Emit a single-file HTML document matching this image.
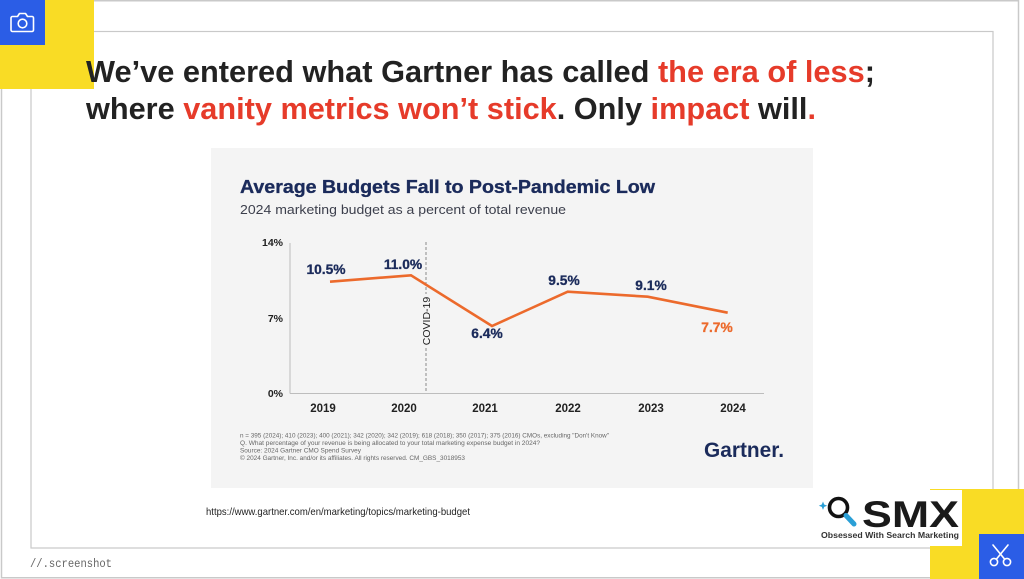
<!DOCTYPE html>
<html><head><meta charset="utf-8"><style>
html,body{margin:0;padding:0;background:#fff;}
svg{display:block;}
</style></head><body>
<svg width="1024" height="579" viewBox="0 0 1024 579" xmlns="http://www.w3.org/2000/svg" font-family="'Liberation Sans', Arial, sans-serif">
  <rect x="0" y="0" width="1024" height="579" fill="#fff"/>
  <!-- outer frame -->
  <rect x="1.5" y="0.75" width="1017" height="577" fill="none" stroke="#c9c9c9" stroke-width="1.5"/>
  <!-- inner box -->
  <rect x="31" y="31.5" width="962" height="516.5" fill="none" stroke="#c9c9c9" stroke-width="1.2"/>
  <!-- top-left yellow/blue -->
  <rect x="0" y="0" width="94" height="89" fill="#f9dc25"/>
  <rect x="0" y="0" width="45" height="45" fill="#2b5de6"/>
  <!-- camera icon -->
  <g fill="none" stroke="#fff" stroke-width="1.6" stroke-linejoin="round">
    <path d="M12.5 16.5 h5 l2 -3 h6 l2 3 h4.5 a1.5 1.5 0 0 1 1.5 1.5 v12 a1.5 1.5 0 0 1 -1.5 1.5 h-19.5 a1.5 1.5 0 0 1 -1.5 -1.5 v-12 a1.5 1.5 0 0 1 1.5 -1.5z"/>
    <circle cx="22.5" cy="23.5" r="4.3"/>
  </g>

  <!-- headline -->
  <text x="86" y="82" font-size="30.5" font-weight="bold" fill="#222" textLength="789" lengthAdjust="spacingAndGlyphs">We’ve entered what Gartner has called <tspan fill="#e63b2a">the era of less</tspan>;</text>
  <text x="86" y="119" font-size="30.5" font-weight="bold" fill="#222" textLength="730" lengthAdjust="spacingAndGlyphs">where <tspan fill="#e63b2a">vanity metrics won’t stick</tspan>. Only <tspan fill="#e63b2a">impact</tspan> will<tspan fill="#e63b2a">.</tspan></text>

  <!-- chart image background -->
  <rect x="211" y="148" width="602" height="340" fill="#f4f4f4"/>
  <text x="240" y="193" font-size="18.5" font-weight="bold" fill="#1b2b5b" stroke="#1b2b5b" stroke-width="0.35" textLength="415" lengthAdjust="spacingAndGlyphs">Average Budgets Fall to Post-Pandemic Low</text>
  <text x="240" y="214" font-size="13" fill="#3c3f4c" textLength="326" lengthAdjust="spacingAndGlyphs">2024 marketing budget as a percent of total revenue</text>

  <!-- axes -->
  <line x1="290" y1="243" x2="290" y2="393.5" stroke="#bdbdbd" stroke-width="1"/>
  <line x1="290" y1="393.5" x2="764" y2="393.5" stroke="#bdbdbd" stroke-width="1"/>
  <g font-size="10.5" font-weight="bold" fill="#222" text-anchor="end">
    <text x="283" y="246">14%</text>
    <text x="283" y="322">7%</text>
    <text x="283" y="397">0%</text>
  </g>
  <g font-size="11.5" font-weight="bold" fill="#222" text-anchor="middle">
    <text x="323" y="412">2019</text>
    <text x="404" y="412">2020</text>
    <text x="485" y="412">2021</text>
    <text x="568" y="412">2022</text>
    <text x="651" y="412">2023</text>
    <text x="733" y="412">2024</text>
  </g>

  <!-- covid line -->
  <line x1="426" y1="242" x2="426" y2="294" stroke="#8a8a8a" stroke-width="1" stroke-dasharray="3,2"/>
  <line x1="426" y1="348" x2="426" y2="393" stroke="#8a8a8a" stroke-width="1" stroke-dasharray="3,2"/>
  <text transform="translate(429.8,321) rotate(-90)" font-size="10.5" fill="#222" text-anchor="middle">COVID-19</text>

  <!-- series -->
  <polyline points="330,281.7 411,275.3 492,326 567.7,291.7 647.7,296.7 727.7,312.7" fill="none" stroke="#ec6a2c" stroke-width="2.6" stroke-linejoin="miter"/>
  <g font-size="13.8" font-weight="bold" fill="#1b2b5b" stroke="#1b2b5b" stroke-width="0.3" text-anchor="middle">
    <text x="326" y="274">10.5%</text>
    <text x="403" y="269">11.0%</text>
    <text x="487" y="338">6.4%</text>
    <text x="564" y="285">9.5%</text>
    <text x="651" y="290">9.1%</text>
    <text x="717" y="332" fill="#ec6a2c" stroke="#ec6a2c">7.7%</text>
  </g>

  <!-- footnotes -->
  <g font-size="6.3" fill="#666">
    <text x="240" y="437.5" textLength="369" lengthAdjust="spacingAndGlyphs">n = 395 (2024); 410 (2023); 400 (2021); 342 (2020); 342 (2019); 618 (2018); 350 (2017); 375 (2016) CMOs, excluding "Don't Know"</text>
    <text x="240" y="445" textLength="300" lengthAdjust="spacingAndGlyphs">Q. What percentage of your revenue is being allocated to your total marketing expense budget in 2024?</text>
    <text x="240" y="452.5" textLength="121" lengthAdjust="spacingAndGlyphs">Source: 2024 Gartner CMO Spend Survey</text>
    <text x="240" y="460" textLength="225" lengthAdjust="spacingAndGlyphs">© 2024 Gartner, Inc. and/or its affiliates. All rights reserved. CM_GBS_3018953</text>
  </g>
  <text x="704" y="457" font-size="21" font-weight="bold" fill="#1b2b5b" textLength="80" lengthAdjust="spacingAndGlyphs">Gartner.</text>

  <!-- URL -->
  <text x="206" y="515" font-size="10.5" fill="#222" textLength="264" lengthAdjust="spacingAndGlyphs">https://www.gartner.com/en/marketing/topics/marketing-budget</text>

  <!-- screenshot label -->
  <text x="30" y="567" font-family="'Liberation Mono', monospace" font-size="12" fill="#666" textLength="82" lengthAdjust="spacingAndGlyphs">//.screenshot</text>

  <!-- bottom-right yellow/blue -->
  <rect x="930" y="489" width="94" height="90" fill="#f9dc25"/>
  <rect x="979" y="534" width="45" height="45" fill="#2b5de6"/>
  <g fill="none" stroke="#fff" stroke-width="1.6" stroke-linecap="round">
    <circle cx="994" cy="562" r="3.6"/>
    <circle cx="1007" cy="562" r="3.6"/>
    <line x1="996.5" y1="559" x2="1008" y2="545"/>
    <line x1="1004.5" y1="559" x2="993" y2="545"/>
  </g>

  <!-- SMX logo -->
  <rect x="813" y="490" width="149" height="56" fill="#fff"/>
  <circle cx="838.5" cy="507.5" r="9" fill="none" stroke="#111" stroke-width="3.6"/>
  <line x1="846" y1="515.5" x2="854" y2="524" stroke="#2a9fd6" stroke-width="5" stroke-linecap="round"/>
  <path d="M823 501.5 l1.2 3 l3 1.2 l-3 1.2 l-1.2 3 l-1.2 -3 l-3 -1.2 l3 -1.2z" fill="#2a9fd6"/>
  <text x="862" y="527" font-size="37" font-weight="bold" fill="#1a1a1a" textLength="97" lengthAdjust="spacingAndGlyphs">SMX</text>
  <text x="821" y="538" font-size="8" font-weight="bold" fill="#333" textLength="138" lengthAdjust="spacingAndGlyphs">Obsessed With Search Marketing</text>
</svg>
</body></html>
